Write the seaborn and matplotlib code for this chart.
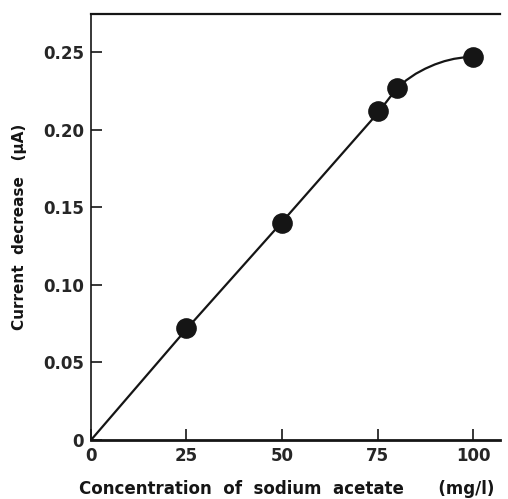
import matplotlib
matplotlib.use("Agg")
import matplotlib.pyplot as plt
import seaborn as sns
import pandas as pd

# measured points
conc = [25, 50, 75, 80, 100]
current = [0.072, 0.140, 0.212, 0.227, 0.247]

# fitted curve
curve_x = [0, 25, 50, 75, 80, 82.5, 85, 87.5, 90, 92.5, 95, 97.5, 100]
curve_y = [0.0, 0.0715, 0.1405, 0.2105, 0.2265, 0.2318, 0.2360, 0.2393,
           0.2420, 0.2441, 0.2456, 0.2465, 0.2470]

xticks = [0, 25, 50, 75, 100]
yticks = [0, 0.05, 0.10, 0.15, 0.20, 0.25]
ytick_labels = ["0", "0.05", "0.10", "0.15", "0.20", "0.25"]

sns.set_style("ticks")
plt.rcParams['font.family'] = ['DejaVu Sans']

fig = plt.figure(figsize=(5.08, 4.99), dpi=100)
ax = fig.add_axes([0.179, 0.118, 0.805, 0.854])

pts = pd.DataFrame({"x": conc, "y": current})
fit = pd.DataFrame({"x": curve_x, "y": curve_y})

sns.lineplot(data=fit, x="x", y="y", ax=ax, color="#151515", lw=1.6, sort=False)
sns.scatterplot(data=pts, x="x", y="y", ax=ax, color="#151515", s=190,
                edgecolor="#151515", zorder=3)

ax.set_xlim(0, 107)
ax.set_ylim(0, 0.2745)
ax.set_xticks(xticks)
ax.set_xticklabels([str(v) for v in xticks], fontsize=12, fontweight="bold")
ax.set_yticks(yticks)
ax.set_yticklabels(ytick_labels, fontsize=12, fontweight="bold")
ax.tick_params(direction="in", length=8, width=1.2, color="#151515", pad=5)

for s in ["left", "bottom", "top"]:
    ax.spines[s].set_color("#151515")
ax.spines["left"].set_linewidth(1.2)
ax.spines["bottom"].set_linewidth(2.0)
ax.spines["top"].set_linewidth(1.6)
ax.spines["right"].set_visible(False)

ax.set_xlabel("")
ax.set_ylabel("")
fig.text(0.564, 0.020, "Concentration  of  sodium  acetate      (mg/l)",
         fontsize=12, fontweight="bold", ha="center", va="center", color="#151515")
fig.text(0.038, 0.545, "Current  decrease   (\u03bcA)", rotation=90,
         fontsize=11, fontweight="bold", ha="center", va="center", color="#151515")

fig.savefig("out.png", dpi=100)
